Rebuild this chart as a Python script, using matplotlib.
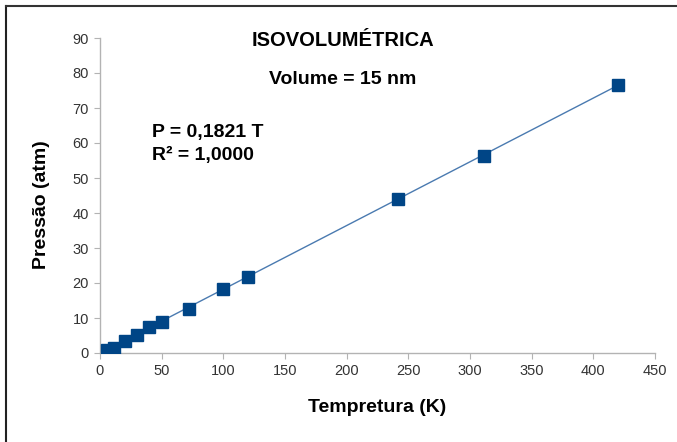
import matplotlib
matplotlib.use("Agg")
import matplotlib.pyplot as plt
from matplotlib.lines import Line2D

plt.rcParams['font.family'] = ['Liberation Sans', 'DejaVu Sans']

temperatura = [6, 11, 20, 30, 40, 50, 72, 100, 120, 242, 311, 420]
pressao = [0.9, 1.5, 3.4, 5.2, 7.3, 9.0, 12.5, 18.2, 21.8, 44.1, 56.4, 76.5]
slope = 0.1821
x_ticks = [0, 50, 100, 150, 200, 250, 300, 350, 400, 450]
y_ticks = [0, 10, 20, 30, 40, 50, 60, 70, 80, 90]

fig = plt.figure(figsize=(6.77, 4.42), dpi=100)
ax = fig.add_axes([100/677, 1-353/442, 555/677, 315/442])

tx = [min(temperatura), max(temperatura)]
ax.plot(tx, [slope*t for t in tx], color='#4a7ab0', lw=1.0, zorder=2)
ax.plot(temperatura, pressao, 's', color='#004586', markersize=9, zorder=3)

ax.set_xlim(0, 450)
ax.set_ylim(0, 90)
ax.set_xticks(x_ticks)
ax.set_yticks(y_ticks)
for s in ['top', 'right']:
    ax.spines[s].set_visible(False)
for s in ['left', 'bottom']:
    ax.spines[s].set_color('#b3b3b3')
    ax.spines[s].set_linewidth(1.0)
ax.tick_params(direction='out', length=4, color='#b3b3b3', labelsize=10.5, labelcolor='#333333', pad=4)
ax.set_xlabel('Tempretura (K)', fontsize=14, fontweight='bold')
ax.xaxis.set_label_coords(0.5, -(408-353)/315, transform=ax.transAxes)
ax.set_ylabel('Pressão (atm)', fontsize=14, fontweight='bold')
ax.yaxis.set_label_coords(-(100-42)/555, (353-205)/315, transform=ax.transAxes)
ax.xaxis.label.set_va('center')
ax.yaxis.label.set_va('center')

fig.text(343/677, 1-40/442, 'ISOVOLUMÉTRICA', ha='center', va='center', fontsize=14.5, fontweight='bold')
ax.text(197, 78, 'Volume = 15 nm', ha='center', va='center', fontsize=14, fontweight='bold')
ax.text(42, 62.9, 'P = 0,1821 T', ha='left', va='center', fontsize=14, fontweight='bold')
ax.text(42, 56.3, 'R² = 1,0000', ha='left', va='center', fontsize=14, fontweight='bold')

fig.add_artist(Line2D([6/677, 6/677], [0, 1-6/442], transform=fig.transFigure, color='#222222', lw=1.5))
fig.add_artist(Line2D([6/677, 1], [1-6/442, 1-6/442], transform=fig.transFigure, color='#333333', lw=1.5))

fig.savefig('out.png', dpi=100)
